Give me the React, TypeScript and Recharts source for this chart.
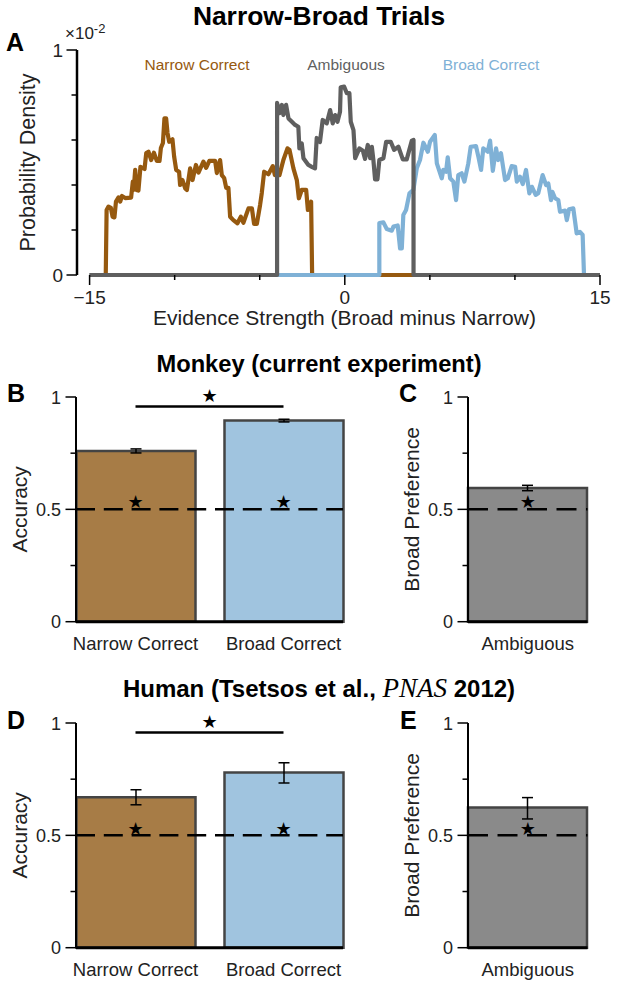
import React from 'react';
import { LineChart, Line, BarChart, Bar, Cell, ErrorBar, XAxis, YAxis, Label, ReferenceLine, ReferenceDot } from 'recharts';

const FONT = '"Liberation Sans", Arial, sans-serif';

// panel A
const narrowX = [-15, -14.05, -14.0, -13.89, -13.75, -13.65, -13.54, -13.45, -13.3, -13.2, -13.1, -12.91, -12.56, -12.46, -12.41, -12.32, -12.24, -12.13, -12.01, -11.77, -11.67, -11.54, -11.38, -11.22, -11.05, -10.89, -10.81, -10.69, -10.6, -10.5, -10.42, -10.32, -10.13, -10.03, -9.91, -9.74, -9.68, -9.54, -9.38, -9.28, -9.09, -8.95, -8.75, -8.6, -8.31, -8.15, -7.96, -7.62, -7.52, -7.33, -7.23, -7.09, -6.97, -6.84, -6.74, -6.55, -6.31, -6.11, -5.96, -5.66, -5.46, -5.33, -5.17, -4.98, -4.88, -4.74, -4.49, -4.23, -4.11, -3.84, -3.61, -3.37, -3.25, -3.02, -2.82, -2.7, -2.53, -2.27, -2.17, -1.98, -1.92, 15];
const narrowY = [0, 0, 0.289, 0.304, 0.298, 0.259, 0.256, 0.326, 0.345, 0.326, 0.351, 0.342, 0.344, 0.415, 0.378, 0.467, 0.378, 0.375, 0.481, 0.471, 0.542, 0.548, 0.511, 0.544, 0.507, 0.507, 0.564, 0.587, 0.696, 0.696, 0.631, 0.592, 0.603, 0.526, 0.467, 0.459, 0.4, 0.422, 0.385, 0.378, 0.474, 0.422, 0.489, 0.455, 0.504, 0.476, 0.507, 0.507, 0.453, 0.511, 0.444, 0.431, 0.387, 0.387, 0.259, 0.244, 0.23, 0.259, 0.232, 0.296, 0.296, 0.227, 0.227, 0.311, 0.364, 0.459, 0.448, 0.484, 0.444, 0.444, 0.511, 0.563, 0.556, 0.474, 0.422, 0.341, 0.378, 0.378, 0.289, 0.326, 0, 0];

const broadX = [-15, 2.03, 2.03, 2.27, 2.47, 2.76, 2.86, 3.11, 3.25, 3.35, 3.44, 3.6, 3.8, 4.03, 4.23, 4.42, 4.62, 4.88, 5.01, 5.29, 5.41, 5.7, 5.79, 5.95, 6.05, 6.19, 6.38, 6.54, 6.67, 6.87, 7.03, 7.26, 7.4, 7.71, 7.85, 8.01, 8.14, 8.4, 8.54, 8.7, 8.89, 9.02, 9.18, 9.42, 9.58, 9.81, 10.01, 10.11, 10.3, 10.46, 10.65, 10.85, 11.0, 11.22, 11.37, 11.63, 11.83, 11.96, 12.12, 12.2, 12.36, 12.55, 12.65, 12.95, 13.05, 13.18, 13.43, 13.63, 13.82, 13.98, 14.06, 15];
const broadY = [0, 0, 0.231, 0.234, 0.204, 0.197, 0.215, 0.22, 0.118, 0.118, 0.267, 0.289, 0.363, 0.378, 0.474, 0.511, 0.588, 0.548, 0.592, 0.622, 0.496, 0.43, 0.467, 0.459, 0.523, 0.43, 0.415, 0.333, 0.444, 0.452, 0.415, 0.496, 0.57, 0.573, 0.526, 0.467, 0.563, 0.548, 0.597, 0.463, 0.563, 0.511, 0.541, 0.422, 0.43, 0.484, 0.481, 0.415, 0.437, 0.404, 0.467, 0.363, 0.392, 0.356, 0.363, 0.444, 0.4, 0.407, 0.333, 0.37, 0.341, 0.333, 0.281, 0.286, 0.244, 0.292, 0.296, 0.185, 0.192, 0.178, 0, 0];

const ambigX = [-15, -3.98, -3.98, -3.84, -3.7, -3.61, -3.45, -3.31, -3.11, -2.92, -2.73, -2.67, -2.53, -2.43, -2.14, -1.94, -1.75, -1.65, -1.46, -1.3, -1.06, -0.86, -0.71, -0.57, -0.43, -0.28, -0.24, -0.04, 0.12, 0.27, 0.35, 0.51, 0.61, 0.86, 1.06, 1.19, 1.35, 1.49, 1.59, 1.68, 1.78, 1.92, 2.03, 2.27, 2.43, 2.7, 2.9, 3.15, 3.41, 3.64, 3.94, 4.04, 4.04, 15];
const ambigY = [0, 0, 0.765, 0.719, 0.756, 0.711, 0.756, 0.696, 0.681, 0.667, 0.659, 0.563, 0.585, 0.519, 0.489, 0.481, 0.474, 0.609, 0.591, 0.689, 0.674, 0.733, 0.674, 0.711, 0.681, 0.726, 0.834, 0.837, 0.808, 0.808, 0.681, 0.644, 0.519, 0.563, 0.552, 0.516, 0.578, 0.519, 0.57, 0.511, 0.425, 0.425, 0.511, 0.519, 0.592, 0.592, 0.556, 0.57, 0.514, 0.514, 0.597, 0.6, 0, 0];

const densityXTicks = [-15, -10, -5, 0, 5, 10, 15];
const densityYTicks = [0, 0.2, 0.4, 0.6, 0.8, 1];
const barYTicks = [0, 0.25, 0.5, 0.75, 1];

// bar panels
const twoNames = ['Narrow Correct', 'Broad Correct'];
const oneName = ['Ambiguous'];
const twoColors = ['#a77c46', '#a0c4df'];
const oneColor = ['#8a8a8a'];

const monkeyAccuracy = [0.76, 0.895];
const monkeyAccuracyErr = [[0.009, 0.009], [0.006, 0.006]];
const monkeyPref = [0.595];
const monkeyPrefErr = [[0.012, 0.012]];

const humanAccuracy = [0.67, 0.78];
const humanAccuracyErr = [[0.034, 0.033], [0.047, 0.043]];
const humanPref = [0.624];
const humanPrefErr = [[0.051, 0.044]];

const zip = (xs: number[], ys: number[]) => xs.map((x, i) => ({ x, y: ys[i] }));

const fmtMajor = (v: number) => (v < 0 ? `\u2212${-v}` : `${v}`);

const XTick = (props: any) => {
  const { x, y, payload } = props;
  const major = Math.abs(payload.value) === 15 || payload.value === 0;
  return (
    <g>
      <line x1={x} x2={x} y1={y} y2={y + (major ? 10 : 5)} stroke="#000" strokeWidth={1.5} />
      {major && (
        <text x={x} y={y + 29} textAnchor="middle" fontSize={19} fontFamily={FONT} fill="#222">{fmtMajor(payload.value)}</text>
      )}
    </g>
  );
};

const YTick = (props: any) => {
  const { x, y, payload, labelled, gap } = props;
  const v = payload.value;
  const major = labelled.includes(v);
  return (
    <g>
      <line x1={x} x2={x - (major ? 10.5 : 5.5)} y1={y} y2={y} stroke="#000" strokeWidth={1.5} />
      {major && (
        <text x={x - gap} y={y + 6.5} textAnchor="end" fontSize={props.size} fontFamily={FONT} fill="#222">{v}</text>
      )}
    </g>
  );
};

const DensityPanel = () => (
  <div style={{ position: 'absolute', left: 0, top: 0 }}>
    <LineChart width={617} height={340} data={[]} margin={{ top: 50, right: 17, left: 0, bottom: 0 }}>
      <XAxis
        type="number"
        dataKey="x"
        domain={[-15.74, 15]}
        ticks={densityXTicks}
        axisLine={false}
        tickLine={false}
        tickSize={0}
        tickMargin={0}
        height={65}
        interval={0}
        tick={<XTick />}
      >
        <Label value="Evidence Strength (Broad minus Narrow)" position="insideBottom" offset={15} dx={6} fontSize={21} fontFamily={FONT} fill="#222" />
      </XAxis>
      <YAxis
        type="number"
        domain={[0, 1]}
        ticks={densityYTicks}
        width={77}
        tickLine={false}
        tickSize={0}
        tickMargin={0}
        interval={0}
        axisLine={{ stroke: '#000', strokeWidth: 2.5 }}
        tick={<YTick labelled={[0, 1]} size={19} gap={14} />}
      >
        <Label value="Probability Density" angle={-90} position="insideLeft" offset={27} textAnchor="middle" fontSize={21.5} fontFamily={FONT} fill="#222" />
      </YAxis>
      <Line data={zip(narrowX, narrowY)} dataKey="y" stroke="#96590f" strokeWidth={4.2} dot={false} isAnimationActive={false} strokeLinejoin="round" />
      <Line data={zip(broadX, broadY)} dataKey="y" stroke="#7fb1d6" strokeWidth={4.2} dot={false} isAnimationActive={false} strokeLinejoin="round" />
      <Line data={zip(ambigX, ambigY)} dataKey="y" stroke="#5f5f5f" strokeWidth={4.2} dot={false} isAnimationActive={false} strokeLinejoin="round" />
    </LineChart>
  </div>
);

const Star = (x: string, y: number) => (
  <ReferenceDot
    key={x}
    x={x}
    y={y}
    r={0.01}
    stroke="none"
    ifOverflow="visible"
    label={{ value: '\u2605', position: 'center', fontSize: 18, fill: '#000', fontFamily: '"DejaVu Sans"' }}
  />
);

const BarPanel = ({ left, top, names, values, errs, colors, ylabel, width, pad, dash, starY, barY }: any) => {
  const data = names.map((name: string, i: number) => ({ name, value: values[i], err: errs[i] }));
  return (
    <div style={{ position: 'absolute', left, top }}>
      <BarChart width={width} height={290} data={data} margin={{ top: 20, right: 14, left: 0, bottom: 0 }} barSize={119} barCategoryGap={0}>
        <XAxis
          dataKey="name"
          height={45.3}
          padding={{ left: pad, right: pad }}
          tickLine={false}
          tickSize={0}
          tickMargin={15}
          interval={0}
          axisLine={{ stroke: '#000', strokeWidth: 3 }}
          tick={{ fontSize: 18.5, fontFamily: FONT, fill: '#222' }}
        />
        <YAxis
          type="number"
          domain={[0, 1]}
          ticks={barYTicks}
          width={76}
          tickLine={false}
          tickSize={0}
          tickMargin={0}
          interval={0}
          axisLine={{ stroke: '#000', strokeWidth: 2 }}
          tick={<YTick labelled={[0, 0.5, 1]} size={18} gap={15} />}
        >
          <Label value={ylabel} angle={-90} position="insideLeft" offset={20} textAnchor="middle" fontSize={21} fontFamily={FONT} fill="#222" />
        </YAxis>
        <Bar dataKey="value" isAnimationActive={false} stroke="#444" strokeWidth={2.5}>
          {data.map((d: any, i: number) => <Cell key={d.name} fill={colors[i]} />)}
          <ErrorBar dataKey="err" direction="y" width={5.5} stroke="#000" strokeWidth={1.5} isAnimationActive={false} />
        </Bar>
        <ReferenceLine y={0.5} stroke="#000" strokeWidth={2.5} strokeDasharray={dash} ifOverflow="visible" />
        {names.map((n: string) => Star(n, starY))}
        {names.length > 1 && (
          <ReferenceLine
            segment={[{ x: names[0], y: barY }, { x: names[1], y: barY }]}
            stroke="#000"
            strokeWidth={2.5}
            ifOverflow="visible"
            label={{ value: '\u2605', position: 'top', offset: 4, fontSize: 18, fill: '#000', fontFamily: '"DejaVu Sans"' }}
          />
        )}
      </BarChart>
    </div>
  );
};

const panelLetter = { fontSize: 25, fontWeight: 700, fontFamily: FONT, fill: '#000' } as const;
const title = { fontWeight: 700, fontFamily: FONT, fill: '#000', textAnchor: 'middle' } as const;

const Overlay = () => (
  <svg width={617} height={987} style={{ position: 'absolute', left: 0, top: 0, pointerEvents: 'none' }}>
    <text x={319} y={25} fontSize={26.4} {...title}>Narrow-Broad Trials</text>
    <text x={319} y={372} fontSize={23.7} {...title}>Monkey (current experiment)</text>
    <text x={319} y={697} fontSize={24} {...title}>
      Human (Tsetsos et al., <tspan fontFamily='"Liberation Serif"' fontStyle="italic" fontWeight={400} fontSize={27}>PNAS</tspan> 2012)
    </text>
    <text x={6} y={51} {...panelLetter}>A</text>
    <text x={7} y={402} {...panelLetter}>B</text>
    <text x={399} y={402} {...panelLetter}>C</text>
    <text x={7} y={729} {...panelLetter}>D</text>
    <text x={400} y={729} {...panelLetter}>E</text>
    <text x={197} y={70} textAnchor="middle" fontSize={15.5} fontFamily={FONT} fill="#96590f">Narrow Correct</text>
    <text x={346} y={70} textAnchor="middle" fontSize={15.5} fontFamily={FONT} fill="#5f5f5f">Ambiguous</text>
    <text x={491} y={70} textAnchor="middle" fontSize={15.5} fontFamily={FONT} fill="#7fb1d6">Broad Correct</text>
    <text x={65} y={39} fontSize={17} fontFamily={FONT} fill="#222">{'\u00d710'}<tspan dy={-6} fontSize={13}>-2</tspan></text>
  </svg>
);

export default function App() {
  return (
    <div style={{ position: 'absolute', left: 0, top: 0, width: 617, height: 987, background: '#fff' }}>
      <DensityPanel />
      <BarPanel left={0} top={377} names={twoNames} values={monkeyAccuracy} errs={monkeyAccuracyErr} colors={twoColors} ylabel="Accuracy" width={357} pad={-14.5} dash="19 8.8" starY={0.533} barY={0.958} />
      <BarPanel left={392} top={377} names={oneName} values={monkeyPref} errs={monkeyPrefErr} colors={oneColor} ylabel="Broad Preference" width={209.5} pad={0} dash="20 9.5" starY={0.533} barY={0} />
      <BarPanel left={0} top={703.3} names={twoNames} values={humanAccuracy} errs={humanAccuracyErr} colors={twoColors} ylabel="Accuracy" width={357} pad={-14.5} dash="19 8.8" starY={0.528} barY={0.958} />
      <BarPanel left={392} top={703.3} names={oneName} values={humanPref} errs={humanPrefErr} colors={oneColor} ylabel="Broad Preference" width={209.5} pad={0} dash="20 9.5" starY={0.528} barY={0} />
      <Overlay />
    </div>
  );
}
